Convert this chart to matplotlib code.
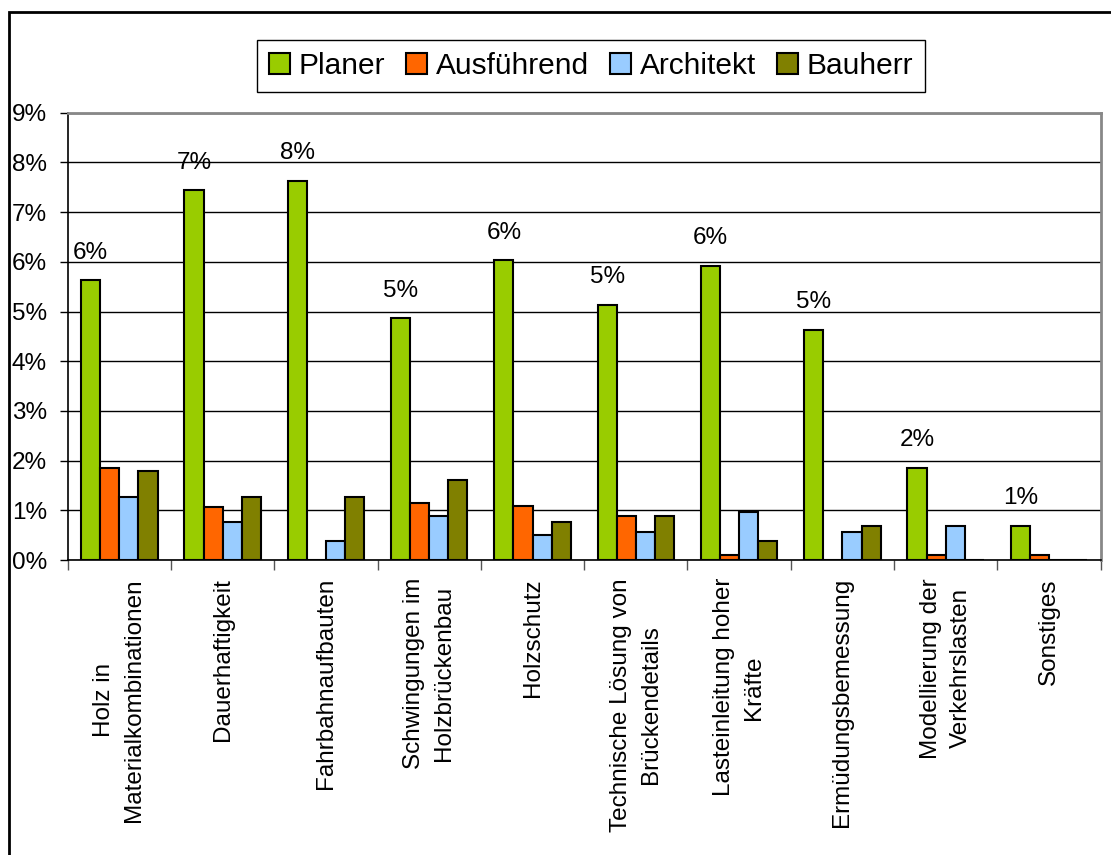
import numpy as np
import matplotlib
matplotlib.use("Agg")
import matplotlib.pyplot as plt
from matplotlib import font_manager
from matplotlib.patches import Rectangle

plt.rcParams['font.family'] = ['Liberation Sans', 'DejaVu Sans']

# categories and shares (in %) per group
categories = ["Holz in\nMaterialkombinationen", "Dauerhaftigkeit", "Fahrbahnaufbauten",
              "Schwingungen im\nHolzbrückenbau", "Holzschutz",
              "Technische Lösung von\nBrückendetails", "Lasteinleitung hoher\nKräfte",
              "Ermüdungsbemessung", "Modellierung der\nVerkehrslasten", "Sonstiges"]
series_names = ["Planer", "Ausführend", "Architekt", "Bauherr"]
planer = [5.63, 7.44, 7.63, 4.86, 6.03, 5.14, 5.92, 4.63, 1.86, 0.69]
ausfuehrend = [1.86, 1.07, 0.0, 1.15, 1.08, 0.89, 0.11, 0.0, 0.11, 0.11]
architekt = [1.27, 0.76, 0.38, 0.89, 0.50, 0.57, 0.96, 0.57, 0.69, 0.0]
bauherr = [1.79, 1.27, 1.27, 1.60, 0.76, 0.89, 0.38, 0.69, 0.0, 0.0]
yticks = list(range(0, 10))

colors = ['#99CC00', '#FF6600', '#99CCFF', '#808000']
series = [planer, ausfuehrend, architekt, bauherr]
fs = 17.5

fig = plt.figure(figsize=(11.11, 8.55), dpi=100)
ax = fig.add_axes([0.0609, 0.345, 0.9298, 0.5232])

x = np.arange(len(categories))
w = 0.185
for j, vals in enumerate(series):
    ax.bar(x + (j - 1.5) * w, vals, w, color=colors[j], edgecolor='black',
           linewidth=1.5, label=series_names[j], zorder=3)

# rounded Planer value above each group
for xi, v in zip(x, planer):
    ax.annotate("%d%%" % round(v), (xi - 1.5 * w, v), xytext=(0, 12),
                textcoords='offset points', ha='center', va='bottom', fontsize=fs)

ax.set_xlim(-0.5, len(categories) - 0.5)
ax.set_ylim(0, 9)
ax.set_yticks(yticks)
ax.set_yticklabels(["%d%%" % t for t in yticks], fontsize=fs)
ax.yaxis.grid(True, color='black', linewidth=1, zorder=0)
ax.tick_params(axis='y', length=6, width=1, pad=9, colors='black')

ax.set_xticks(np.arange(-0.5, len(categories)), labels=[])
ax.tick_params(axis='x', which='major', length=7, width=1, color='#555555')
ax.set_xticks(x, minor=True)
ax.set_xticklabels(categories, minor=True, rotation=90, fontsize=fs,
                   ha='center', va='top', multialignment='center', linespacing=1.45)
ax.tick_params(axis='x', which='minor', length=0, pad=13)

for s in ['top', 'right']:
    ax.spines[s].set_color('#888888')
    ax.spines[s].set_linewidth(2)
for s in ['left', 'bottom']:
    ax.spines[s].set_color('black')
    ax.spines[s].set_linewidth(1.2)
ax.spines['bottom'].set_zorder(4)

names = {f.name for f in font_manager.fontManager.ttflist}
leg_font = 'Liberation Sans Narrow' if 'Liberation Sans Narrow' in names else 'Liberation Sans'
leg = fig.legend(loc='center', bbox_to_anchor=(0.532, 0.923), ncol=4, fancybox=False,
                 framealpha=1, edgecolor='black', handlelength=0.7, handleheight=0.7,
                 handletextpad=0.3, columnspacing=0.7, borderpad=0.4,
                 prop={'family': leg_font, 'size': 21.5})
leg.get_frame().set_linewidth(1)

# outer chart frame
fig.add_artist(Rectangle((9 / 1111, -0.1), 1.2, 1.1 - 12 / 855, fill=False,
                         edgecolor='black', linewidth=2, transform=fig.transFigure))

fig.savefig("out.png", dpi=100)
